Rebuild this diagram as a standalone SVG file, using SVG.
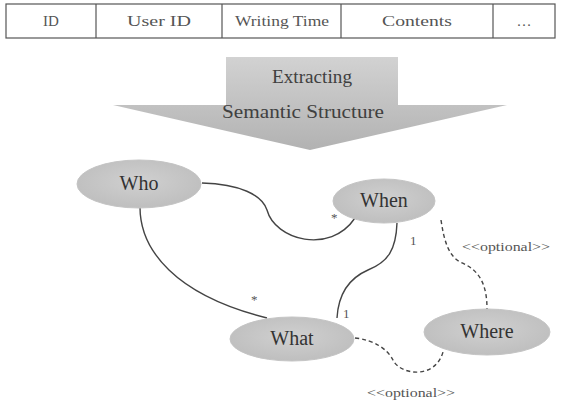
<svg xmlns="http://www.w3.org/2000/svg" width="561" height="407" viewBox="0 0 561 407">
<defs>
<linearGradient id="arrowGrad" x1="0" y1="0" x2="0" y2="1">
<stop offset="0" stop-color="#d2d2d2"/>
<stop offset="1" stop-color="#b2b2b2"/>
</linearGradient>
<radialGradient id="nodeGrad" cx="0.5" cy="0.45" r="0.6">
<stop offset="0" stop-color="#d0d0d0"/>
<stop offset="1" stop-color="#bdbdbd"/>
</radialGradient>
</defs>
<style>
text{font-family:"Liberation Serif","DejaVu Serif",serif;fill:#444;}
.cell{font-size:15px;text-anchor:middle;fill:#555;}
.big{font-size:18px;text-anchor:middle;fill:#404040;}
.node{fill:url(#nodeGrad);stroke:#c4c4c4;stroke-width:1;}
.nl{font-size:20px;text-anchor:middle;fill:#333;}
.conn{fill:none;stroke:#444;stroke-width:1.4;}
.dash{fill:none;stroke:#444;stroke-width:1.4;stroke-dasharray:4,3;}
.lbl{font-size:13px;fill:#555;}
</style>
<g id="table">
<rect x="6" y="4" width="549" height="34" fill="#fff" stroke="#555" stroke-width="1.2"/>
<line x1="96" y1="4" x2="96" y2="38" stroke="#555" stroke-width="1.2"/>
<line x1="222" y1="4" x2="222" y2="38" stroke="#555" stroke-width="1.2"/>
<line x1="341" y1="4" x2="341" y2="38" stroke="#555" stroke-width="1.2"/>
<line x1="493" y1="4" x2="493" y2="38" stroke="#555" stroke-width="1.2"/>
<text class="cell" x="51" y="26">ID</text>
<text class="cell" x="159" y="26" textLength="64" lengthAdjust="spacingAndGlyphs">User ID</text>
<text class="cell" x="282" y="26" textLength="94" lengthAdjust="spacingAndGlyphs">Writing Time</text>
<text class="cell" x="417" y="26" textLength="70" lengthAdjust="spacingAndGlyphs">Contents</text>
<text class="cell" x="524" y="26">…</text>
</g>
<g id="arrow">
<polygon points="226,57 398,57 398,105 507,105 310,150 113,105 226,105" fill="url(#arrowGrad)"/>
<text class="big" x="312" y="83" textLength="80" lengthAdjust="spacingAndGlyphs">Extracting</text>
<text class="big" x="303" y="118" textLength="162" lengthAdjust="spacingAndGlyphs">Semantic Structure</text>
</g>
<g id="connectors">
<path class="conn" d="M202,183 C240,184 262,195 267,210 C275,240 330,255 355,218"/>
<path class="conn" d="M140,207 C140,250 175,295 267,318"/>
<path class="conn" d="M397,223 C396,250 388,262 368,270 C345,280 338,300 337,318"/>
<path class="dash" d="M441,220 C444,240 448,255 460,262 C480,270 487,285 487,309"/>
<path class="dash" d="M355,338 C375,340 388,350 393,360 C400,375 435,380 443,352"/>
</g>
<g id="labels">
<text class="lbl" x="331" y="222">*</text>
<text class="lbl" x="251" y="304">*</text>
<text class="lbl" x="410" y="245">1</text>
<text class="lbl" x="343" y="318">1</text>
<text class="lbl" x="462" y="251" textLength="88" lengthAdjust="spacingAndGlyphs">&lt;&lt;optional&gt;&gt;</text>
<text class="lbl" x="367" y="397" textLength="88" lengthAdjust="spacingAndGlyphs">&lt;&lt;optional&gt;&gt;</text>
</g>
<g id="who"><ellipse class="node" cx="139" cy="184" rx="62" ry="24"/><text class="nl" x="139" y="190">Who</text></g>
<g id="when"><ellipse class="node" cx="384" cy="201" rx="51" ry="22"/><text class="nl" x="384" y="207">When</text></g>
<g id="what"><ellipse class="node" cx="292" cy="339" rx="62" ry="22"/><text class="nl" x="292" y="345">What</text></g>
<g id="where"><ellipse class="node" cx="487" cy="332" rx="63" ry="23"/><text class="nl" x="487" y="338">Where</text></g>
</svg>
